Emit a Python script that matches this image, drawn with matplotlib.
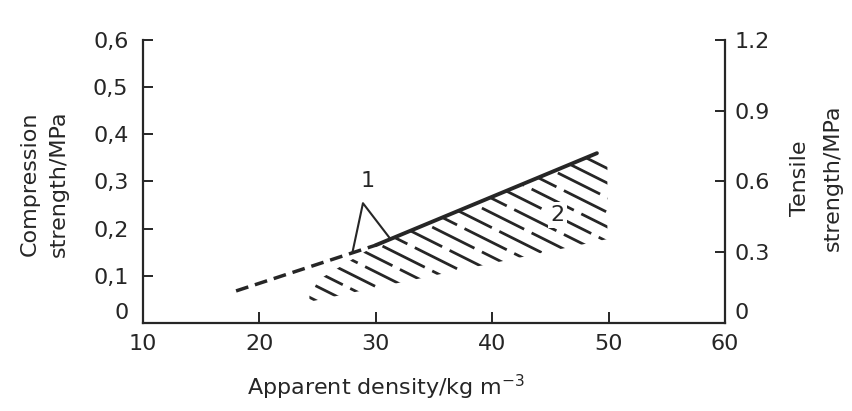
import matplotlib
matplotlib.use("Agg")
import matplotlib.pyplot as plt
import numpy as np
from matplotlib.patches import Polygon

plt.rcParams['font.family'] = ['DejaVu Sans']

INK = '#262626'
FS = 16

# Curve 1: compression strength vs. apparent density (dashed = extrapolated part)
dash_x = [18, 30]
dash_y = [0.068, 0.165]
solid_x = [30, 49]
solid_y = [0.165, 0.36]

# Region 2: hatched band of tensile strength values
band_x = [24.3, 30, 49, 49.9]
band_top = [0.08, 0.165, 0.36, 0.35]
band_bottom = [0.045, 0.075, 0.173, 0.178]

# Leader from label "1" to the curve
leader_x = [28.0, 28.9, 31.2]
leader_y = [0.150, 0.254, 0.18]
label1_pos = (29.3, 0.30)
label2_pos = (45.6, 0.229)

x_ticks = [10, 20, 30, 40, 50, 60]
left_ticks = [0, 0.1, 0.2, 0.3, 0.4, 0.5, 0.6]
left_labels = ['0', '0,1', '0,2', '0,3', '0,4', '0,5', '0,6']
right_ticks = [0, 0.3, 0.6, 0.9, 1.2]
right_labels = ['0', '0.3', '0.6', '0.9', '1.2']

fig = plt.figure(figsize=(8.53, 4.11), dpi=100)
ax = fig.add_axes([0.1676, 0.2141, 0.6823, 0.6886])
ax2 = ax.twinx()

ax.set_xlim(10, 60)
ax.set_ylim(0, 0.6)
ax2.set_ylim(0, 1.2)

for a in (ax, ax2):
    for s in a.spines.values():
        s.set_linewidth(1.6)
        s.set_color(INK)
    a.spines['top'].set_visible(False)
ax.spines['right'].set_visible(False)
ax2.spines['left'].set_visible(False)
ax2.spines['bottom'].set_visible(False)

ax.set_xticks(x_ticks)
ax.set_xticklabels([str(v) for v in x_ticks])
ax.set_yticks(left_ticks)
ax.set_yticklabels(left_labels)
ax2.set_yticks(right_ticks)
ax2.set_yticklabels(right_labels)

ax.tick_params(axis='x', direction='in', length=8, width=1.4, pad=8,
               labelsize=FS, colors=INK)
ax.tick_params(axis='y', direction='in', length=7, width=1.4, pad=10.5,
               labelsize=FS, colors=INK)
ax2.tick_params(axis='y', direction='in', length=7, width=1.4, pad=7,
                labelsize=FS, colors=INK)
ax.get_yticklabels()[0].set_va('bottom')
ax2.get_yticklabels()[0].set_va('bottom')

# Hatched band (region 2), strokes clipped to the band outline
verts = list(zip(band_x, band_top)) + list(zip(band_x[::-1], band_bottom[::-1]))
band = Polygon(verts, closed=True, facecolor='none', edgecolor='none')
ax.add_patch(band)
hatch_slope = -0.01234
hx = np.array([15.0, 55.0])
for i, b in enumerate(np.arange(0.20, 0.92, 0.031)):
    ln, = ax.plot(hx, b + hatch_slope * (hx - 10), color=INK, lw=2.0,
                  linestyle=(7 * (i % 3), (17, 3)), dash_capstyle='butt')
    ln.set_clip_path(band)

# Curve 1
ax.plot(dash_x, dash_y, color=INK, lw=2.5, linestyle=(0, (3.7, 2.0)),
        dash_capstyle='butt')
ax.plot(solid_x, solid_y, color=INK, lw=2.8, solid_capstyle='round')

ax.plot(leader_x, leader_y, color=INK, lw=1.5)
ax.text(*label1_pos, '1', fontsize=FS, color=INK, ha='center', va='center')
ax.text(*label2_pos, '2', fontsize=FS, color=INK, ha='center', va='center',
        bbox=dict(boxstyle='square,pad=0.12', facecolor='white',
                  edgecolor='none'), zorder=5)

ax.set_xlabel('Apparent density/kg m$^{-3}$', fontsize=FS, color=INK)
ax.xaxis.label.set_ha('left')
ax.xaxis.label.set_va('baseline')
ax.xaxis.set_label_coords(0.1787, -0.254)

fig.text(44.5 / 853, 1 - 184 / 411, 'Compression\nstrength/MPa', rotation=90,
         ha='center', va='center', multialignment='center', fontsize=FS,
         color=INK, linespacing=1.6)
fig.text(816.5 / 853, 1 - 178 / 411, 'Tensile\nstrength/MPa', rotation=90,
         ha='center', va='center', multialignment='center', fontsize=FS,
         color=INK, linespacing=1.75)

fig.savefig('out.png', dpi=100, facecolor='white')
